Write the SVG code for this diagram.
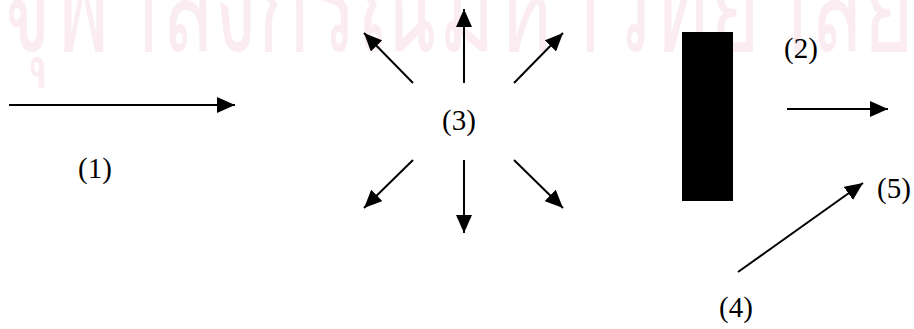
<svg xmlns="http://www.w3.org/2000/svg" width="914" height="329" viewBox="0 0 914 329">
  <style>
    .lbl { font-family: "Liberation Serif", "Times New Roman", serif; font-size: 29px; fill: #000; }
    .ray { stroke: #000; stroke-width: 2; fill: none; marker-end: url(#head); }
    .wm { font-family: "Noto Sans", "DejaVu Sans", sans-serif; font-size: 140px; fill: #faecf1; }
  </style>
  <defs>
    <marker id="head" markerUnits="userSpaceOnUse" markerWidth="20" markerHeight="16" refX="18" refY="8" orient="auto">
      <path d="M0,0 L18,8 L0,16 z" fill="#000"/>
    </marker>
  </defs>
  <rect width="914" height="329" fill="#fff"/>

  <!-- faint watermark band along the top edge -->
  <text class="wm" x="0" y="51" textLength="914" lengthAdjust="spacingAndGlyphs">จุฬาลงกรณ์มหาวิทยาลัย</text>

  <g id="connectors">
    <line class="ray" x1="9" y1="105" x2="235" y2="105"/>
    <!-- radiating arrows around (3) -->
    <line class="ray" x1="464" y1="83" x2="464" y2="9"/>
    <line class="ray" x1="464" y1="160" x2="464" y2="233"/>
    <line class="ray" x1="413" y1="83" x2="364" y2="33"/>
    <line class="ray" x1="514" y1="83" x2="563" y2="33"/>
    <line class="ray" x1="413" y1="160" x2="364" y2="208"/>
    <line class="ray" x1="514" y1="160" x2="563" y2="208"/>
    <line class="ray" x1="787" y1="109" x2="888" y2="109"/>
    <line class="ray" x1="738" y1="272" x2="863" y2="183"/>
  </g>

  <g id="barrier">
    <rect x="682" y="32" width="51" height="169" fill="#000"/>
  </g>

  <g id="label-1"><text class="lbl" x="78" y="178">(1)</text></g>
  <g id="label-2"><text class="lbl" x="784" y="58">(2)</text></g>
  <g id="label-3"><text class="lbl" x="442" y="130">(3)</text></g>
  <g id="label-4"><text class="lbl" x="719" y="317">(4)</text></g>
  <g id="label-5"><text class="lbl" x="877" y="198">(5)</text></g>
</svg>
